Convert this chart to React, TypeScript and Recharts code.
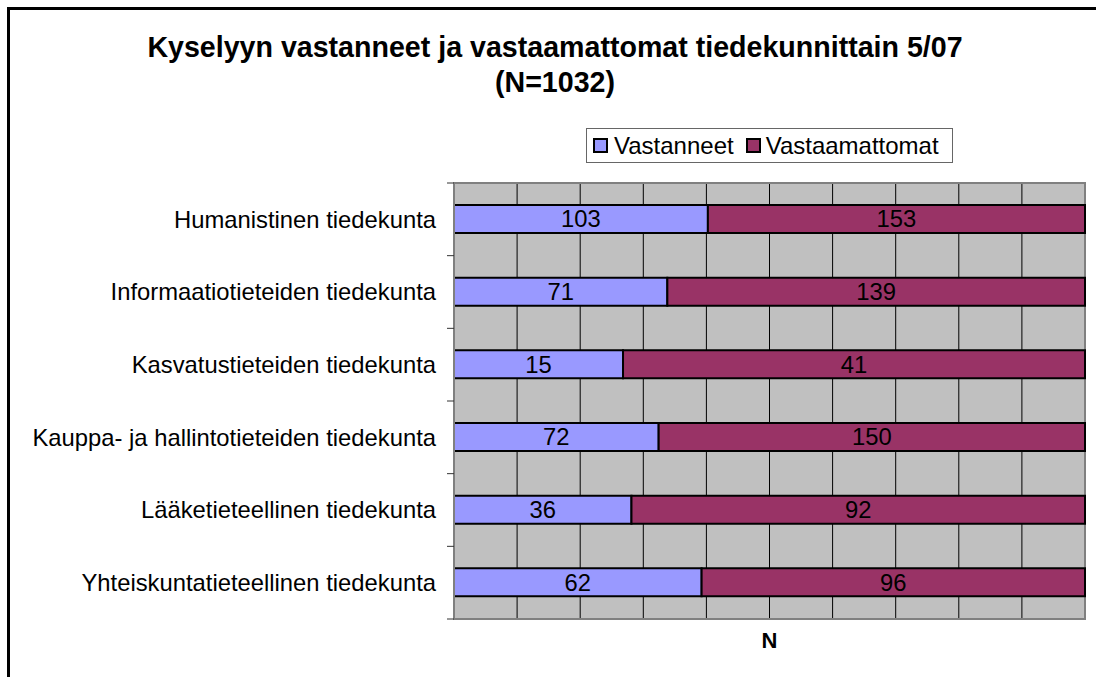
import React from "react";
import {
  Bar,
  BarChart,
  CartesianGrid,
  LabelList,
  ReferenceArea,
  XAxis,
  YAxis,
} from "recharts";

const categories = [
  "Humanistinen tiedekunta",
  "Informaatiotieteiden tiedekunta",
  "Kasvatustieteiden tiedekunta",
  "Kauppa- ja hallintotieteiden tiedekunta",
  "Lääketieteellinen tiedekunta",
  "Yhteiskuntatieteellinen tiedekunta",
];
const vastanneet = [103, 71, 15, 72, 36, 62];
const vastaamattomat = [153, 139, 41, 150, 92, 96];
const gridTicks = [0, 0.1, 0.2, 0.3, 0.4, 0.5, 0.6, 0.7, 0.8, 0.9, 1];

const data = categories.map((name, i) => ({
  name,
  vastanneet: vastanneet[i],
  vastaamattomat: vastaamattomat[i],
}));

const FONT = '"Liberation Sans", Arial, sans-serif';
const TEXT_SIZE = 23.8;

// category label at the band centre, small tick marks on the band edges
function CategoryTick(props: any) {
  const { x, y, payload, index, visibleTicksCount } = props;
  const half = payload?.offset ?? 0;
  return (
    <g>
      <text
        x={x - 18}
        y={y}
        dy="0.35em"
        textAnchor="end"
        fill="#000"
        fontSize={TEXT_SIZE}
        fontFamily={FONT}
      >
        {payload.value}
      </text>
      <line x1={x - 7} x2={x} y1={y - half} y2={y - half} stroke="#333" />
      {index === visibleTicksCount - 1 && (
        <line x1={x - 7} x2={x} y1={y + half} y2={y + half} stroke="#333" />
      )}
    </g>
  );
}

// x axis has no tick labels, but its ticks still drive the grid
const NoTick = () => <g />;

const swatch = (color: string, ml: number) => (
  <span
    style={{
      display: "inline-block",
      width: 11,
      height: 11,
      marginLeft: ml,
      background: color,
      border: "2px solid #000",
    }}
  />
);

export default function App() {
  return (
    <div
      style={{
        position: "absolute",
        left: 0,
        top: 0,
        width: 1096,
        height: 677,
        overflow: "hidden",
        background: "#fff",
        fontFamily: FONT,
      }}
    >
      <div
        style={{
          position: "absolute",
          left: 7,
          top: 7,
          width: 1200,
          height: 800,
          borderTop: "3px solid #000",
          borderLeft: "3px solid #000",
        }}
      />
      <div
        style={{
          position: "absolute",
          left: 0,
          top: 30,
          width: 1110,
          textAlign: "center",
          fontWeight: "bold",
          fontSize: 28.6,
          lineHeight: "35px",
          color: "#000",
        }}
      >
        Kyselyyn vastanneet ja vastaamattomat tiedekunnittain 5/07
        <br />
        (N=1032)
      </div>
      <div
        style={{
          position: "absolute",
          left: 586,
          top: 128,
          width: 365,
          height: 33,
          border: "1px solid #666",
          display: "flex",
          alignItems: "center",
          fontSize: 24,
          color: "#000",
        }}
      >
        {swatch("#9999FF", 6)}
        <span style={{ marginLeft: 6 }}>Vastanneet</span>
        {swatch("#993366", 12)}
        <span style={{ marginLeft: 5 }}>Vastaamattomat</span>
      </div>
      <div style={{ position: "absolute", left: 0, top: 0 }}>
        <BarChart
          width={1096}
          height={677}
          data={data}
          layout="vertical"
          stackOffset="expand"
          barSize={28}
          margin={{ top: 183, right: 11, bottom: 0, left: 0 }}
        >
          <CartesianGrid
            horizontal={false}
            stroke="#000"
            fill="#C0C0C0"
            fillOpacity={1}
          />
          <ReferenceArea x1={0} x2={1} fill="none" stroke="#808080" strokeWidth={2} />
          <XAxis
            type="number"
            domain={[0, 1]}
            ticks={gridTicks}
            interval={0}
            tick={<NoTick />}
            tickLine={false}
            axisLine={{ stroke: "#808080", strokeWidth: 2 }}
            height={58}
            label={{
              value: "N",
              position: "insideTop",
              offset: 13,
              fill: "#000",
              fontWeight: "bold",
              fontSize: 22,
              fontFamily: FONT,
            }}
          />
          <YAxis
            type="category"
            dataKey="name"
            width={454}
            interval={0}
            tickSize={0}
            tickMargin={0}
            tickLine={false}
            axisLine={{ stroke: "#808080", strokeWidth: 2 }}
            tick={<CategoryTick />}
          />
          <Bar
            dataKey="vastanneet"
            stackId="a"
            fill="#9999FF"
            stroke="#000"
            strokeWidth={2}
            isAnimationActive={false}
          >
            <LabelList
              dataKey="vastanneet"
              position="center"
              fill="#000"
              fontSize={TEXT_SIZE}
              fontFamily={FONT}
            />
          </Bar>
          <Bar
            dataKey="vastaamattomat"
            stackId="a"
            fill="#993366"
            stroke="#000"
            strokeWidth={2}
            isAnimationActive={false}
          >
            <LabelList
              dataKey="vastaamattomat"
              position="center"
              fill="#000"
              fontSize={TEXT_SIZE}
              fontFamily={FONT}
            />
          </Bar>
        </BarChart>
      </div>
    </div>
  );
}
